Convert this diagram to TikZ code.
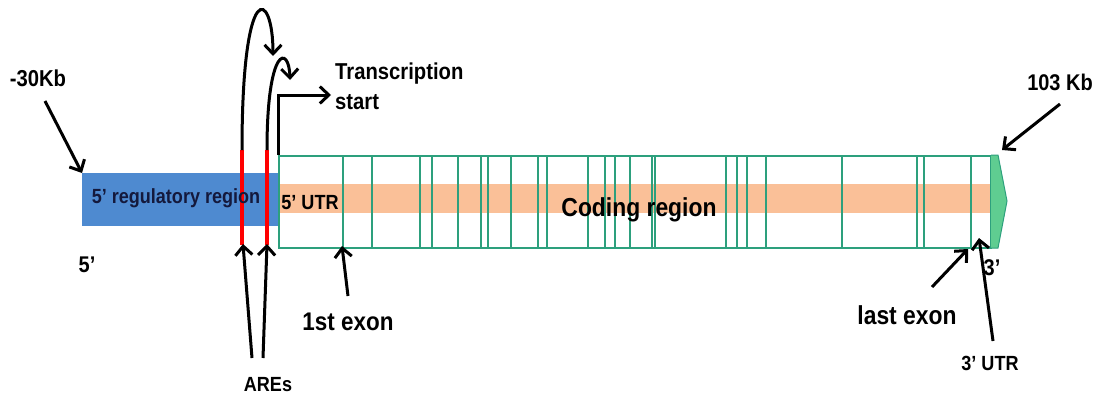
\documentclass[tikz,border=0pt]{standalone}
\usepackage{fontspec}
\setmainfont{Liberation Sans}[FakeStretch=0.88]
\usetikzlibrary{arrows.meta}
\definecolor{exg}{RGB}{45,160,125}
\definecolor{capg}{RGB}{95,205,145}
\definecolor{band}{RGB}{250,192,152}
\definecolor{regblue}{RGB}{78,138,208}
\definecolor{navy}{RGB}{20,25,60}
\tikzset{
  lbl/.style={inner sep=0pt, font=\bfseries, text=black},
  ptr/.style={line width=3pt, draw=black, -{Straight Barb[length=9pt,width=17pt,line width=3pt]}},
  exline/.style={draw=exg, line width=1.8pt},
  are/.style={draw=red, line width=4.5pt}
}
\begin{document}
\begin{tikzpicture}[x=1pt,y=-1pt]
\useasboundingbox (0,0) rectangle (1107,399);
% orange band
\fill[band] (278,184) rectangle (990,213);
% 5' regulatory region
\node[fill=regblue, minimum width=196pt, minimum height=53pt, inner sep=0pt, anchor=north west] (reg) at (82,173) {};
% gene box
\node[draw=exg, line width=1.8pt, minimum width=712pt, minimum height=92pt, inner sep=0pt, anchor=north west] (gene) at (278,155) {};
% exon lines
\foreach \x in {343,372,420,432,458,481,488,511,538,547,588,605,615,630,652,655,726,737,747,766,842,917,924,971}
  \draw[exline] (\x,155) -- (\x,247);
% 3' cap
\fill[capg] (991,155) -- (998,155) -- (1007,201) -- (998,248) -- (991,248) -- cycle;
\draw[exg, line width=1pt] (991,155) -- (998,155) -- (1007,201) -- (998,248) -- (991,248);
% AREs red bars
\coordinate (areA) at (242,150);
\coordinate (areB) at (267,150);
\draw[are] (242,150) -- (242,245);
\draw[are] (267,150) -- (267,245);
% looping arrows
\coordinate (loopA) at (273,56);
\coordinate (loopB) at (290,80);
\draw[ptr] (areA) .. controls (242,-25) and (273,-10) .. (loopA);
\draw[ptr] (areB) .. controls (267,45) and (289,45) .. (loopB);
% transcription start
\coordinate (tss) at (278,155);
\coordinate (tssEnd) at (331,95);
\draw[ptr] (tss) |- (tssEnd);
\node[lbl, font=\bfseries\fontsize{23}{30}\selectfont, anchor=west, align=left] (tstext) at (335,86) {Transcription\\start};
% texts
\node[lbl, font=\bfseries\fontsize{23}{26}\selectfont] (kb30) at (38,78) {-30Kb};
\node[lbl, font=\bfseries\fontsize{22.7}{26}\selectfont] (kb103) at (1060,82) {103 Kb};
\node[lbl, font=\bfseries\fontsize{20.5}{24}\selectfont, text=navy] (regtext) at (176,198) {5’ regulatory region};
\node[lbl, font=\bfseries\fontsize{20.5}{24}\selectfont] (utr5) at (310,203) {5’ UTR};
\node[lbl, font=\bfseries\fontsize{26}{30}\selectfont] (coding) at (639,210) {Coding region};
\node[lbl, font=\bfseries\fontsize{22.7}{26}\selectfont] (five) at (87,265) {5’};
\node[lbl, font=\bfseries\fontsize{22.7}{26}\selectfont] (three) at (992,268) {3’};
\node[lbl, font=\bfseries\fontsize{20.5}{24}\selectfont] (ares) at (268,385) {AREs};
\node[lbl, font=\bfseries\fontsize{25.5}{30}\selectfont] (exon1) at (348,322) {1st exon};
\node[lbl, font=\bfseries\fontsize{26}{30}\selectfont] (exonl) at (907,315) {last exon};
\node[lbl, font=\bfseries\fontsize{20.5}{24}\selectfont] (utr3) at (990,363) {3’ UTR};
% pointer arrows
\coordinate (start5) at (82,173);
\coordinate (end3) at (1002,150);
\coordinate (ex1pt) at (342,246);
\coordinate (exlpt) at (968,249);
\coordinate (utr3pt) at (979,238);
\coordinate (areTipA) at (243,244);
\coordinate (areTipB) at (267,244);
\draw[ptr] (45,101) -- (start5);
\draw[ptr] (1060,104) -- (end3);
\draw[ptr] (348,296) -- (ex1pt);
\draw[ptr] (932,287) -- (exlpt);
\draw[ptr] (993,341) -- (utr3pt);
\draw[ptr] (252,358) -- (areTipA);
\draw[ptr] (263,358) -- (areTipB);
\end{tikzpicture}
\end{document}
